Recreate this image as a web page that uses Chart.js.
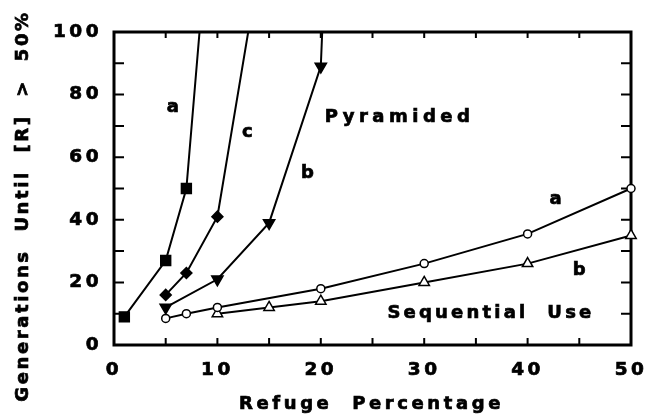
<!DOCTYPE html>
<html>
<head>
<meta charset="utf-8">
<script src="https://cdn.jsdelivr.net/npm/chart.js@4.4.0/dist/chart.umd.min.js"></script>
<style>
  html, body { margin: 0; padding: 0; background: #fff; }
</style>
</head>
<body>
<canvas id="chart" width="648" height="417"></canvas>
<script>
// Pyramided strategies (filled markers); last point of each runs off the top
const pyrAX = [1, 5, 7, 10];
const pyrAY = [9, 27, 50, 168];
const pyrCX = [5, 7, 10, 15];
const pyrCY = [16, 23, 41, 140];
const pyrBX = [5, 10, 15, 20, 21];
const pyrBY = [12, 21, 39, 89, 170];

// Sequential use (open markers)
const seqAX = [5, 7, 10, 20, 30, 40, 50];
const seqAY = [8.5, 10, 12, 18, 26, 35.5, 50];
const seqBX = [10, 15, 20, 30, 40, 50];
const seqBY = [10, 12, 14, 20, 26, 35];

const xTicks = [0, 10, 20, 30, 40, 50];
const yTicks = [0, 20, 40, 60, 80, 100];

const xTitle = 'Refuge  Percentage';
const yTitle = 'Generations  Until  [R]  >  50%';

// text labels inside the plot, placed in data units
const notes = [
  { text: 'a', x: 5.7, y: 76, sp: 3.5 },
  { text: 'c', x: 12.9, y: 68, sp: 3.5 },
  { text: 'b', x: 18.7, y: 55, sp: 3.5 },
  { text: 'Pyramided', x: 27.4, y: 72.8, sp: 4.5 },
  { text: 'a', x: 42.7, y: 46.6, sp: 3.5 },
  { text: 'b', x: 45, y: 24, sp: 3.5 },
  { text: 'Sequential  Use', x: 36.3, y: 10.2, sp: 3.2 }
];

const FONT = "'DejaVu Sans', Verdana, sans-serif";

function pts(xs, ys) {
  return xs.map((x, i) => ({ x: x, y: ys[i] }));
}

const clipBox = { left: 14, right: 14, top: 0, bottom: 14 };

function series(xs, ys, style) {
  return Object.assign({
    data: pts(xs, ys),
    showLine: true,
    borderColor: '#000',
    borderWidth: 2,
    pointBorderColor: '#000',
    pointBackgroundColor: '#000',
    pointBorderWidth: 1.5,
    clip: clipBox
  }, style);
}

// letter spacing for the tick labels (canvas resets on resize, so re-apply)
const spacing = {
  id: 'spacing',
  beforeUpdate(chart) { chart.ctx.letterSpacing = '3.5px'; },
  beforeDraw(chart) { chart.ctx.letterSpacing = '3.5px'; }
};

function heavyText(ctx, txt, x, y) {
  ctx.fillText(txt, x, y);
  ctx.strokeText(txt, x, y);
}

const frame = {
  id: 'frame',
  beforeDatasetsDraw(chart) {
    const { ctx, chartArea: a, scales: { x, y } } = chart;
    ctx.save();
    ctx.strokeStyle = '#000';
    ctx.lineWidth = 2;
    ctx.beginPath();
    for (let v = 5; v < 50; v += 5) {
      const px = x.getPixelForValue(v);
      ctx.moveTo(px, a.bottom); ctx.lineTo(px, a.bottom - 7);
      ctx.moveTo(px, a.top); ctx.lineTo(px, a.top + 6);
    }
    for (let v = 10; v < 100; v += 10) {
      const py = y.getPixelForValue(v);
      ctx.moveTo(a.left, py); ctx.lineTo(a.left + 10, py);
      ctx.moveTo(a.right, py); ctx.lineTo(a.right - 10, py);
    }
    ctx.stroke();
    ctx.lineWidth = 3;
    ctx.strokeRect(a.left, a.top, a.right - a.left, a.bottom - a.top);
    ctx.restore();
  },
  afterDatasetsDraw(chart) {
    const { ctx, chartArea: a, scales: { x, y } } = chart;
    ctx.save();
    ctx.fillStyle = '#000';
    ctx.strokeStyle = '#000';
    ctx.lineWidth = 0.7;
    ctx.textAlign = 'center';
    ctx.textBaseline = 'middle';
    ctx.font = 'bold 18px ' + FONT;
    notes.forEach(n => {
      ctx.letterSpacing = n.sp + 'px';
      heavyText(ctx, n.text, x.getPixelForValue(n.x) + n.sp / 2, y.getPixelForValue(n.y));
    });
    // axis titles
    ctx.letterSpacing = '3.6px';
    heavyText(ctx, xTitle, (a.left + a.right) / 2 - 1, 404);
    ctx.letterSpacing = '2.6px';
    ctx.translate(23, 206);
    ctx.rotate(-Math.PI / 2);
    heavyText(ctx, yTitle, 0, 0);
    ctx.restore();
  }
};

const tickFont = { family: FONT, size: 18.5, weight: 'bold' };

new Chart(document.getElementById('chart'), {
  type: 'scatter',
  data: {
    datasets: [
      series(pyrAX, pyrAY, { pointStyle: 'rect', pointRadius: 7 }),
      series(pyrCX, pyrCY, { pointStyle: 'rectRot', pointRadius: 5.5 }),
      series(pyrBX, pyrBY, { pointStyle: 'triangle', pointRotation: 180, pointRadius: 6.5 }),
      series(seqAX, seqAY, { pointStyle: 'circle', pointRadius: 4, pointBackgroundColor: '#fff' }),
      series(seqBX, seqBY, { pointStyle: 'triangle', pointRadius: 6, pointBackgroundColor: '#fff' })
    ]
  },
  options: {
    responsive: false,
    animation: false,
    layout: { padding: { top: 32, right: 17, left: 0, bottom: 0 } },
    plugins: { legend: { display: false }, tooltip: { enabled: false } },
    scales: {
      x: {
        type: 'linear', min: 0, max: 50,
        grid: { display: false, drawTicks: false },
        border: { display: false },
        afterBuildTicks: s => { s.ticks = xTicks.map(v => ({ value: v })); },
        ticks: { color: '#000', font: tickFont, padding: 14, maxRotation: 0, autoSkip: false,
                 textStrokeColor: '#000', textStrokeWidth: 0.7 },
        afterFit: s => { s.height = 72; s.paddingLeft = 0; s.paddingRight = 0; }
      },
      y: {
        type: 'linear', min: 0, max: 100,
        grid: { display: false, drawTicks: false },
        border: { display: false },
        afterBuildTicks: s => { s.ticks = yTicks.map(v => ({ value: v })); },
        ticks: { color: '#000', font: tickFont, padding: 12, autoSkip: false,
                 textStrokeColor: '#000', textStrokeWidth: 0.7 },
        afterFit: s => { s.width = 114; s.paddingTop = 0; s.paddingBottom = 0; }
      }
    }
  },
  plugins: [spacing, frame]
});
</script>
</body>
</html>
